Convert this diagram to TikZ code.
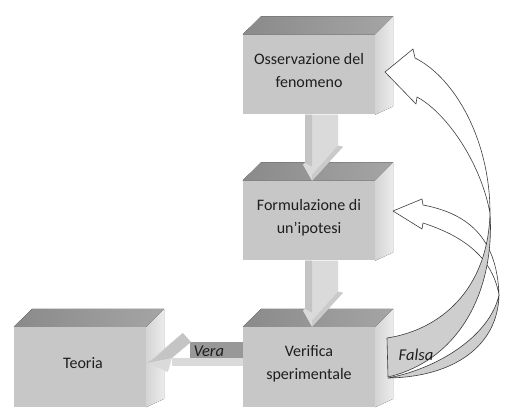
\documentclass[tikz,border=0pt]{standalone}
\usepackage{fontspec}
\setmainfont{Carlito}
\usetikzlibrary{calc}
\definecolor{topl}{RGB}{138,138,138}
\definecolor{topr}{RGB}{165,165,165}
\definecolor{frontc}{RGB}{199,199,199}
\definecolor{sidel}{RGB}{212,212,212}
\definecolor{sider}{RGB}{236,236,236}
\definecolor{txt}{RGB}{30,30,30}
\definecolor{bandc}{RGB}{152,152,152}
\definecolor{arrl}{RGB}{218,218,218}
\definecolor{arrd}{RGB}{196,196,196}
\definecolor{backc}{RGB}{206,206,206}
\definecolor{linec}{RGB}{60,60,60}
\tikzset{
  front/.style={fill=frontc, minimum width=132pt, minimum height=80pt, inner sep=0pt, draw=none},
  topface/.style={left color=topl, right color=topr},
  sideface/.style={left color=sidel, right color=sider},
  lbl/.style={text=txt, align=center, inner sep=0pt, font=\fontsize{16}{23}\selectfont},
  ilbl/.style={text=txt, inner sep=0pt, font=\fontsize{16.5}{20}\selectfont\itshape},
  outl/.style={draw=linec, line width=0.6pt, line join=round},
}
\newcommand\cubefaces[1]{%
  \fill[topface] (#1.north west) -- (#1.north east) -- ++(18,-18) -- ++(-132,0) -- cycle;
  \fill[sideface] (#1.north east) -- ++(18,-18) -- ++(0,90) -- (#1.south east) -- cycle;}
\newcommand\blockdownarrow[1]{%
  \begin{scope}[shift={(#1.south)}]
    \fill[arrl] (-4,0) -- (29,0) -- (29,31) -- (34,32) -- (3,66) -- (-6,50) -- (-4,48) -- cycle;
    \fill[arrd] (-4,0) -- (3,0) -- (3,52) -- (-4,48) -- cycle;
    \fill[arrd!90!white] (29,31) -- (34,32) -- (3,66) -- (3,60) -- cycle;
  \end{scope}}
\begin{document}
\begin{tikzpicture}[x=1pt,y=-1pt]
\useasboundingbox (0,0) rectangle (512,417);
\fill[white] (0,0) rectangle (512,417);

% boxes
\node[front] (obs) at (309,74.5) {};
\node[front] (form) at (309,220.5) {};
\node[front] (ver) at (309,367) {};
\node[front] (teo) at (80,367) {};
\cubefaces{obs}
\cubefaces{form}
\cubefaces{ver}
\cubefaces{teo}

\node[lbl] (obs-t) at (309,71) {Osservazione del\\fenomeno};
\node[lbl] (form-t) at (309,217.5) {Formulazione di\\un’ipotesi};
\node[lbl] (ver-t) at (309,363.5) {Verifica\\sperimentale};
\node[lbl] (teo-t) at (83,363) {Teoria};

% down arrows
\blockdownarrow{obs}
\blockdownarrow{form}

% Vera arrow
\begin{scope}[shift={(ver.west)}]
  \fill[bandc] (-53,-25) rectangle (0,-9);
  \fill[arrl] (-71,-9) rectangle (0,-1);
  \fill[arrl] (-60,-34) -- (-52,-25) -- (-71,-9) -- (-73,-1) -- (-75,5) -- (-96,-4) -- cycle;
  \fill[arrd] (-60,-34) -- (-52,-25) -- (-71,-9) -- (-96,-4) -- (-88,-9) -- cycle;
  \node[ilbl] (vera) at (-34,-16) {Vera};
\end{scope}

% curved arrow to form (behind)
\filldraw[outl, fill=white] (499,295) .. controls (492,255) and (460,235) .. (423,223) -- (422,229) -- (393,211) -- (422,199) -- (423,205) .. controls (465,213) and (497,235) .. (499,295) -- cycle;
\filldraw[outl, fill=backc] (499,295) .. controls (498,345) and (455,377) .. (388,378) .. controls (440,368) and (490,335) .. (499,295) -- cycle;

% curved arrow to obs
\filldraw[outl, fill=backc] (490,213) .. controls (488,290) and (440,330) .. (387,338) -- (388,377) .. controls (460,360) and (495,290) .. (490,213) -- cycle;
\filldraw[outl, fill=white] (490,213) .. controls (480,160) and (445,112) .. (417,97) -- (416,104) -- (385,72) -- (413,49) -- (415,58) .. controls (455,78) and (490,140) .. (490,213) -- cycle;

\node[ilbl] (falsa) at (416,355) {Falsa};
\end{tikzpicture}
\end{document}
